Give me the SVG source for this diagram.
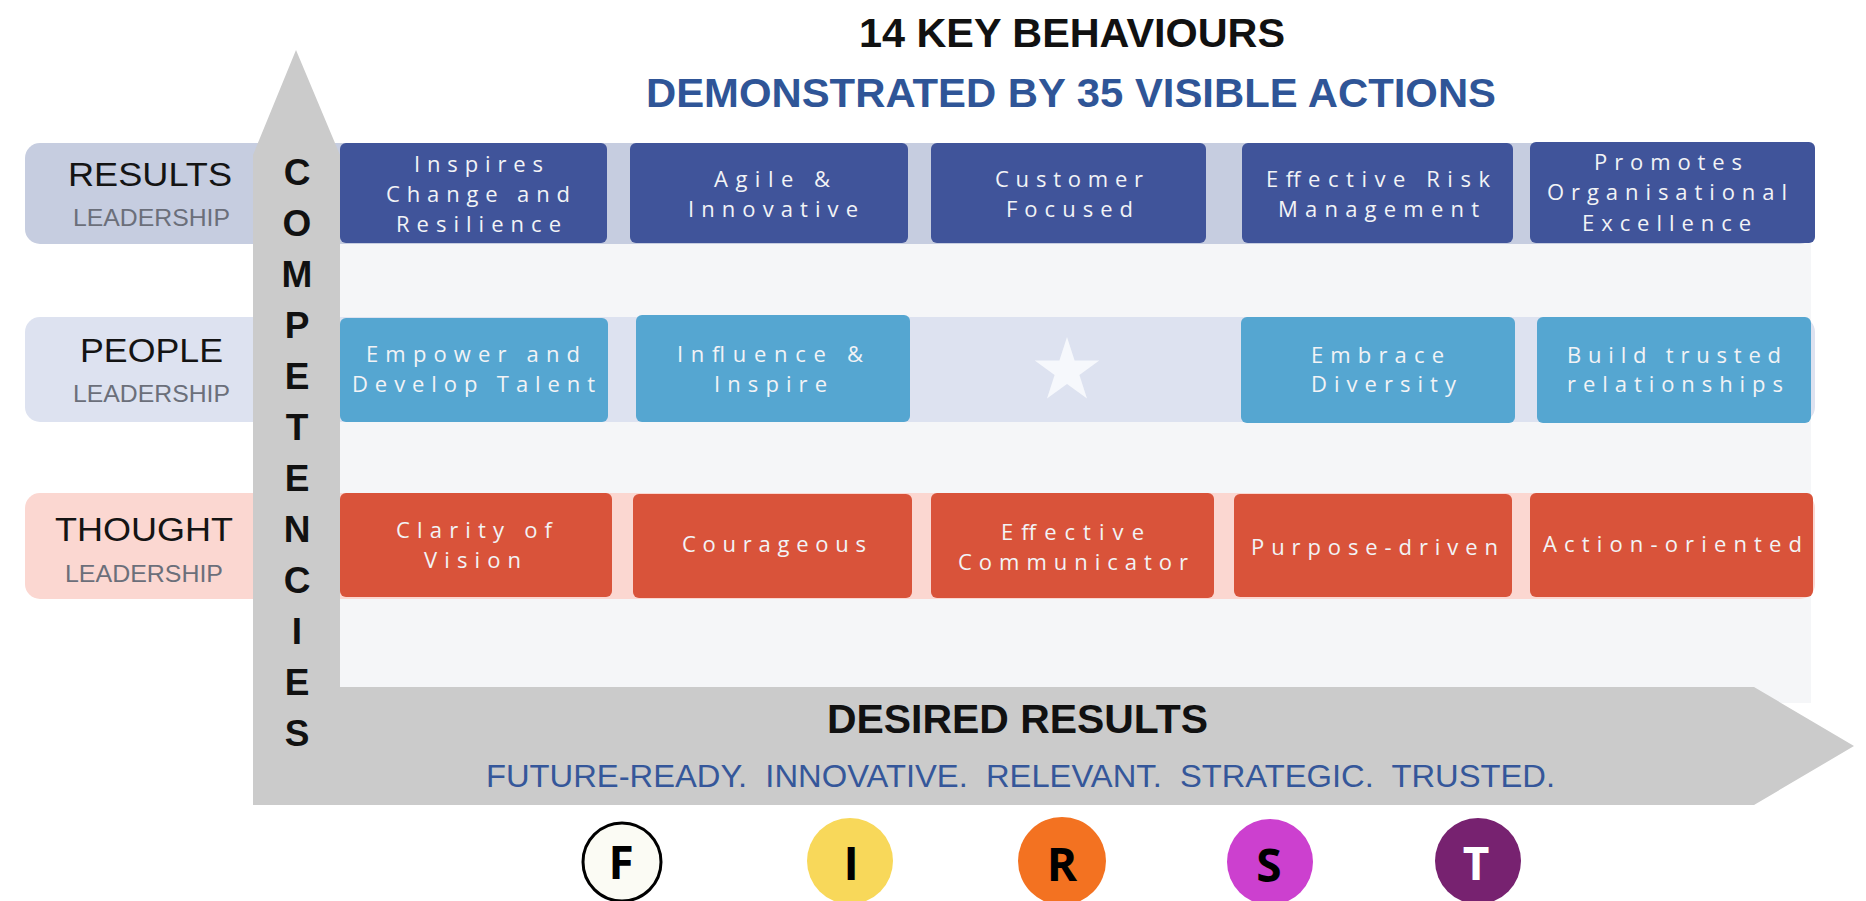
<svg xmlns="http://www.w3.org/2000/svg" width="1866" height="901" viewBox="0 0 1866 901">
  <style>
    .title { font-family: "Liberation Sans", Arial, sans-serif; font-weight: bold; font-size: 40px; }
    .row-name { font-family: "Liberation Sans", Arial, sans-serif; font-size: 34px; fill: #141414; }
    .row-sub { font-family: "Liberation Sans", Arial, sans-serif; font-size: 24px; fill: #6b6f7a; }
    .axis-letter { font-family: "Liberation Sans", Arial, sans-serif; font-weight: bold; font-size: 37px; fill: #111; text-anchor: middle; }
    .box-text { font-family: "Open Sans", "DejaVu Sans", sans-serif; font-size: 22px; fill: #f2f3f6; }
    .res { fill: #40549a; }
    .ppl { fill: #55a6d1; }
    .thg { fill: #d9533a; }
    .badge-letter { font-family: "Open Sans", "Liberation Sans", sans-serif; font-weight: bold; font-size: 46px; text-anchor: middle; }
  </style>

  <rect width="1866" height="901" fill="#ffffff"/>

  <!-- inner panel behind the rows -->
  <rect x="300" y="143" width="1511" height="560" fill="#f5f6f8"/>

  <!-- row bands with their labels -->
  <g id="band-results">
    <rect x="25" y="143" width="1790" height="101" rx="15" fill="#c6cde0"/>
  </g>
  <g id="band-people">
    <rect x="25" y="317" width="1790" height="105" rx="15" fill="#dde2f0"/>
  </g>
  <g id="band-thought">
    <rect x="25" y="493" width="1790" height="106" rx="15" fill="#fbd7d1"/>
  </g>

  <!-- L-shaped axis arrow: competencies up, desired results right -->
  <g id="axes">
    <path d="M253,155 L296,50 L340,155 L340,687 L1754,687 L1854,746 L1754,805 L253,805 Z" fill="#cbcbcb"/>
    <g id="axis-competencies">
      <text class="axis-letter" x="297" y="185">C</text>
      <text class="axis-letter" x="297" y="236">O</text>
      <text class="axis-letter" x="297" y="287">M</text>
      <text class="axis-letter" x="297" y="338">P</text>
      <text class="axis-letter" x="297" y="389">E</text>
      <text class="axis-letter" x="297" y="440">T</text>
      <text class="axis-letter" x="297" y="491">E</text>
      <text class="axis-letter" x="297" y="542">N</text>
      <text class="axis-letter" x="297" y="593">C</text>
      <text class="axis-letter" x="297" y="644">I</text>
      <text class="axis-letter" x="297" y="695">E</text>
      <text class="axis-letter" x="297" y="746">S</text>
    </g>
    <g id="axis-results">
      <text class="title" x="827" y="733" font-size="39" fill="#111" textLength="381" lengthAdjust="spacingAndGlyphs">DESIRED RESULTS</text>
      <text x="486" y="787" font-family="'Liberation Sans', Arial, sans-serif" font-size="32" fill="#35579a" style="white-space:pre" textLength="1069" lengthAdjust="spacingAndGlyphs">FUTURE-READY.  INNOVATIVE.  RELEVANT.  STRATEGIC.  TRUSTED.</text>
    </g>
  </g>

  <!-- headings -->
  <g id="heading">
    <text class="title" x="859" y="47" fill="#111" textLength="426" lengthAdjust="spacingAndGlyphs">14 KEY BEHAVIOURS</text>
    <text class="title" x="646" y="107" fill="#2f5597" textLength="850" lengthAdjust="spacingAndGlyphs">DEMONSTRATED BY 35 VISIBLE ACTIONS</text>
  </g>

  <!-- row labels -->
  <g id="label-results">
    <text class="row-name" x="68" y="186" textLength="164" lengthAdjust="spacingAndGlyphs">RESULTS</text>
    <text class="row-sub" x="73" y="226" textLength="157" lengthAdjust="spacingAndGlyphs">LEADERSHIP</text>
  </g>
  <g id="label-people">
    <text class="row-name" x="80" y="362" textLength="143" lengthAdjust="spacingAndGlyphs">PEOPLE</text>
    <text class="row-sub" x="73" y="402" textLength="157" lengthAdjust="spacingAndGlyphs">LEADERSHIP</text>
  </g>
  <g id="label-thought">
    <text class="row-name" x="55" y="541" textLength="178" lengthAdjust="spacingAndGlyphs">THOUGHT</text>
    <text class="row-sub" x="65" y="582" textLength="158" lengthAdjust="spacingAndGlyphs">LEADERSHIP</text>
  </g>

  <!-- results leadership behaviours -->
  <g id="inspires-change">
    <rect class="res" x="340" y="143" width="267" height="100" rx="6"/>
    <text class="box-text" x="414" y="172" textLength="129" lengthAdjust="spacing">Inspires</text>
    <text class="box-text" x="386" y="202" textLength="184" lengthAdjust="spacing">Change and</text>
    <text class="box-text" x="396" y="232" textLength="165" lengthAdjust="spacing">Resilience</text>
  </g>
  <g id="agile-innovative">
    <rect class="res" x="630" y="143" width="278" height="100" rx="6"/>
    <text class="box-text" x="714" y="187" textLength="116" lengthAdjust="spacing">Agile &amp;</text>
    <text class="box-text" x="688" y="217" textLength="170" lengthAdjust="spacing">Innovative</text>
  </g>
  <g id="customer-focused">
    <rect class="res" x="931" y="143" width="275" height="100" rx="6"/>
    <text class="box-text" x="995" y="187" textLength="148" lengthAdjust="spacing">Customer</text>
    <text class="box-text" x="1006" y="217" textLength="127" lengthAdjust="spacing">Focused</text>
  </g>
  <g id="risk-management">
    <rect class="res" x="1242" y="143" width="271" height="100" rx="6"/>
    <text class="box-text" x="1266" y="187" textLength="224" lengthAdjust="spacing">Effective Risk</text>
    <text class="box-text" x="1278" y="217" textLength="201" lengthAdjust="spacing">Management</text>
  </g>
  <g id="organisational-excellence">
    <rect class="res" x="1530" y="142" width="285" height="101" rx="6"/>
    <text class="box-text" x="1594" y="170" textLength="148" lengthAdjust="spacing">Promotes</text>
    <text class="box-text" x="1547" y="200" textLength="240" lengthAdjust="spacing">Organisational</text>
    <text class="box-text" x="1582" y="231" textLength="169" lengthAdjust="spacing">Excellence</text>
  </g>

  <!-- people leadership behaviours -->
  <g id="empower-talent">
    <rect class="ppl" x="340" y="318" width="268" height="104" rx="6"/>
    <text class="box-text" x="366" y="362" textLength="214" lengthAdjust="spacing">Empower and</text>
    <text class="box-text" x="352" y="392" textLength="243" lengthAdjust="spacing">Develop Talent</text>
  </g>
  <g id="influence-inspire">
    <rect class="ppl" x="636" y="315" width="274" height="107" rx="6"/>
    <text class="box-text" x="677" y="362" textLength="186" lengthAdjust="spacing">Influence &amp;</text>
    <text class="box-text" x="714" y="392" textLength="113" lengthAdjust="spacing">Inspire</text>
  </g>
  <g id="star">
    <polygon points="1067,337 1074.6,360.5 1099.3,360.5 1079.4,375 1087,398.5 1067,384 1047,398.5 1054.6,375 1034.7,360.5 1059.4,360.5" fill="#f6f8fc"/>
  </g>
  <g id="embrace-diversity">
    <rect class="ppl" x="1241" y="317" width="274" height="106" rx="6"/>
    <text class="box-text" x="1311" y="363" textLength="133" lengthAdjust="spacing">Embrace</text>
    <text class="box-text" x="1311" y="392" textLength="145" lengthAdjust="spacing">Diversity</text>
  </g>
  <g id="trusted-relationships">
    <rect class="ppl" x="1537" y="317" width="274" height="106" rx="6"/>
    <text class="box-text" x="1567" y="363" textLength="214" lengthAdjust="spacing">Build trusted</text>
    <text class="box-text" x="1567" y="392" textLength="216" lengthAdjust="spacing">relationships</text>
  </g>

  <!-- thought leadership behaviours -->
  <g id="clarity-vision">
    <rect class="thg" x="340" y="493" width="272" height="104" rx="6"/>
    <text class="box-text" x="396" y="538" textLength="156" lengthAdjust="spacing">Clarity of</text>
    <text class="box-text" x="424" y="568" textLength="97" lengthAdjust="spacing">Vision</text>
  </g>
  <g id="courageous">
    <rect class="thg" x="633" y="494" width="279" height="104" rx="6"/>
    <text class="box-text" x="682" y="552" textLength="184" lengthAdjust="spacing">Courageous</text>
  </g>
  <g id="effective-communicator">
    <rect class="thg" x="931" y="493" width="283" height="105" rx="6"/>
    <text class="box-text" x="1001" y="540" textLength="143" lengthAdjust="spacing">Effective</text>
    <text class="box-text" x="958" y="570" textLength="230" lengthAdjust="spacing">Communicator</text>
  </g>
  <g id="purpose-driven">
    <rect class="thg" x="1234" y="494" width="278" height="103" rx="6"/>
    <text class="box-text" x="1251" y="555" textLength="247" lengthAdjust="spacing">Purpose-driven</text>
  </g>
  <g id="action-oriented">
    <rect class="thg" x="1530" y="493" width="283" height="104" rx="6"/>
    <text class="box-text" x="1543" y="552" textLength="259" lengthAdjust="spacing">Action-oriented</text>
  </g>

  <!-- FIRST badges -->
  <g id="badge-f">
    <circle cx="622" cy="862" r="39" fill="#fbfbf4" stroke="#000" stroke-width="3"/>
    <text class="badge-letter" x="621" y="879" fill="#000">F</text>
  </g>
  <g id="badge-i">
    <circle cx="850" cy="861" r="43" fill="#f8d85a"/>
    <text class="badge-letter" x="851" y="880" fill="#000">I</text>
  </g>
  <g id="badge-r">
    <circle cx="1062" cy="861" r="44" fill="#f37221"/>
    <text class="badge-letter" x="1062" y="881" fill="#000">R</text>
  </g>
  <g id="badge-s">
    <circle cx="1270" cy="862" r="43" fill="#cc40cf"/>
    <text class="badge-letter" x="1269" y="882" fill="#000">S</text>
  </g>
  <g id="badge-t">
    <circle cx="1478" cy="861" r="43" fill="#772270"/>
    <text class="badge-letter" x="1476" y="880" fill="#ffffff">T</text>
  </g>
</svg>
